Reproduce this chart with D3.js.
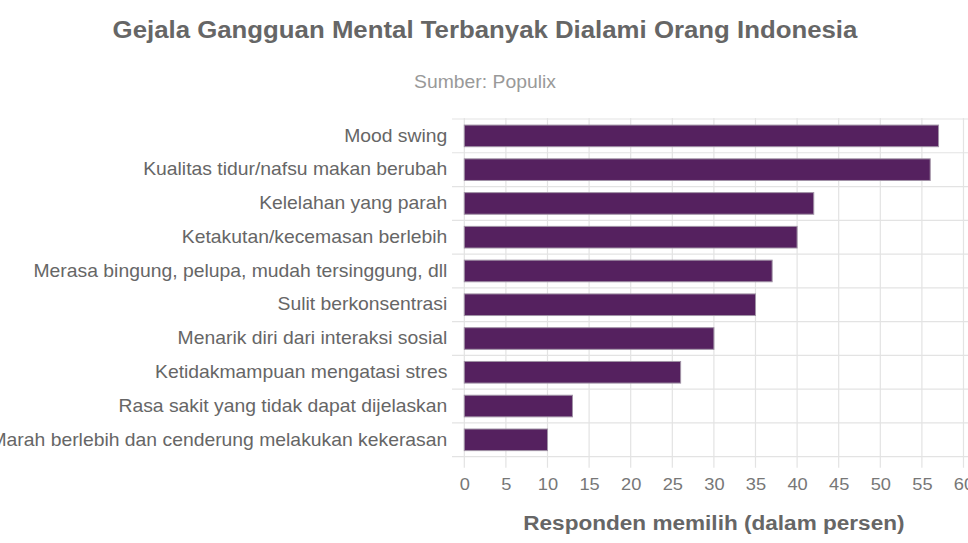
<!DOCTYPE html>
<html><head><meta charset="utf-8">
<script src="https://cdn.jsdelivr.net/npm/d3@7"></script>
<style>body{margin:0;background:#fff;overflow:hidden}svg{display:block;font-family:"Liberation Sans",Arial,sans-serif}</style>
</head><body>
<svg id="c" width="968" height="543"></svg>
<script>
const categories = ["Mood swing","Kualitas tidur/nafsu makan berubah","Kelelahan yang parah","Ketakutan/kecemasan berlebih","Merasa bingung, pelupa, mudah tersinggung, dll","Sulit berkonsentrasi","Menarik diri dari interaksi sosial","Ketidakmampuan mengatasi stres","Rasa sakit yang tidak dapat dijelaskan","Marah berlebih dan cenderung melakukan kekerasan"];
const values = [57,56,42,40,37,35,30,26,13,10];
const xTicks = [0,5,10,15,20,25,30,35,40,45,50,55,60];
const title = "Gejala Gangguan Mental Terbanyak Dialami Orang Indonesia";
const subtitle = "Sumber: Populix";
const xTitle = "Responden memilih (dalam persen)";

(function(){
const SX = 1.075;
const svg = d3.select("#c");
const pL = 464.3, pR = 963.5, pT = 119, pB = 456.7;
const x = d3.scaleLinear().domain([0,60]).range([pL,pR]);
const y = d3.scaleBand().domain(categories).range([pT,pB]).paddingInner(0.36).paddingOuter(0.18);
const yb = d3.scaleBand().domain(categories).range([pT,pB]);

const g = svg.append("g");
g.selectAll("line.h").data(categories.concat(["__end"])).join("line")
  .attr("x1",452).attr("x2",968)
  .attr("y1",(d,i)=>pT+i*yb.step()).attr("y2",(d,i)=>pT+i*yb.step())
  .attr("stroke","#e3e3e3").attr("stroke-width",1.2);
g.selectAll("line.v").data(xTicks).join("line")
  .attr("x1",d=>x(d)).attr("x2",d=>x(d)).attr("y1",pT-1).attr("y2",pB+11)
  .attr("stroke","#e3e3e3").attr("stroke-width",1.2);

svg.append("g").selectAll("rect").data(values).join("rect")
  .attr("x",x(0)).attr("y",(d,i)=>y(categories[i]))
  .attr("width",d=>x(d)-x(0)).attr("height",y.bandwidth())
  .attr("fill","#55215f").attr("stroke","#a193a6").attr("stroke-width",1);

function stretch(sel){
  sel.each(function(){
    const t = d3.select(this);
    const tx = +t.attr("x")||0;
    const prev = t.attr("transform")||"";
    t.attr("transform", prev+` translate(${tx},0) scale(${SX},1) translate(${-tx},0)`);
  });
}

const xa = svg.append("g").attr("transform",`translate(0,${pB})`)
  .call(d3.axisBottom(x).tickValues(xTicks).tickSize(0).tickPadding(21));
xa.select(".domain").remove();
xa.selectAll("text").attr("fill","#777").attr("font-size",17).attr("font-family","Liberation Sans, Arial, sans-serif");
stretch(xa.selectAll("text"));

const ya = svg.append("g").attr("transform",`translate(${pL},0)`)
  .call(d3.axisLeft(y).tickSize(0).tickPadding(17));
ya.select(".domain").remove();
ya.selectAll("text").attr("fill","#666").attr("font-size",18).attr("font-family","Liberation Sans, Arial, sans-serif");
stretch(ya.selectAll("text"));

stretch(svg.append("text").attr("x",485).attr("y",38).attr("text-anchor","middle")
  .attr("font-size",24).attr("font-weight","bold").attr("fill","#666").text(title));
stretch(svg.append("text").attr("x",485).attr("y",88).attr("text-anchor","middle")
  .attr("font-size",18).attr("fill","#999").text(subtitle));
stretch(svg.append("text").attr("x",(pL+pR)/2).attr("y",530).attr("text-anchor","middle")
  .attr("font-size",21).attr("font-weight","bold").attr("fill","#666").text(xTitle));
})();
</script>
</body></html>
